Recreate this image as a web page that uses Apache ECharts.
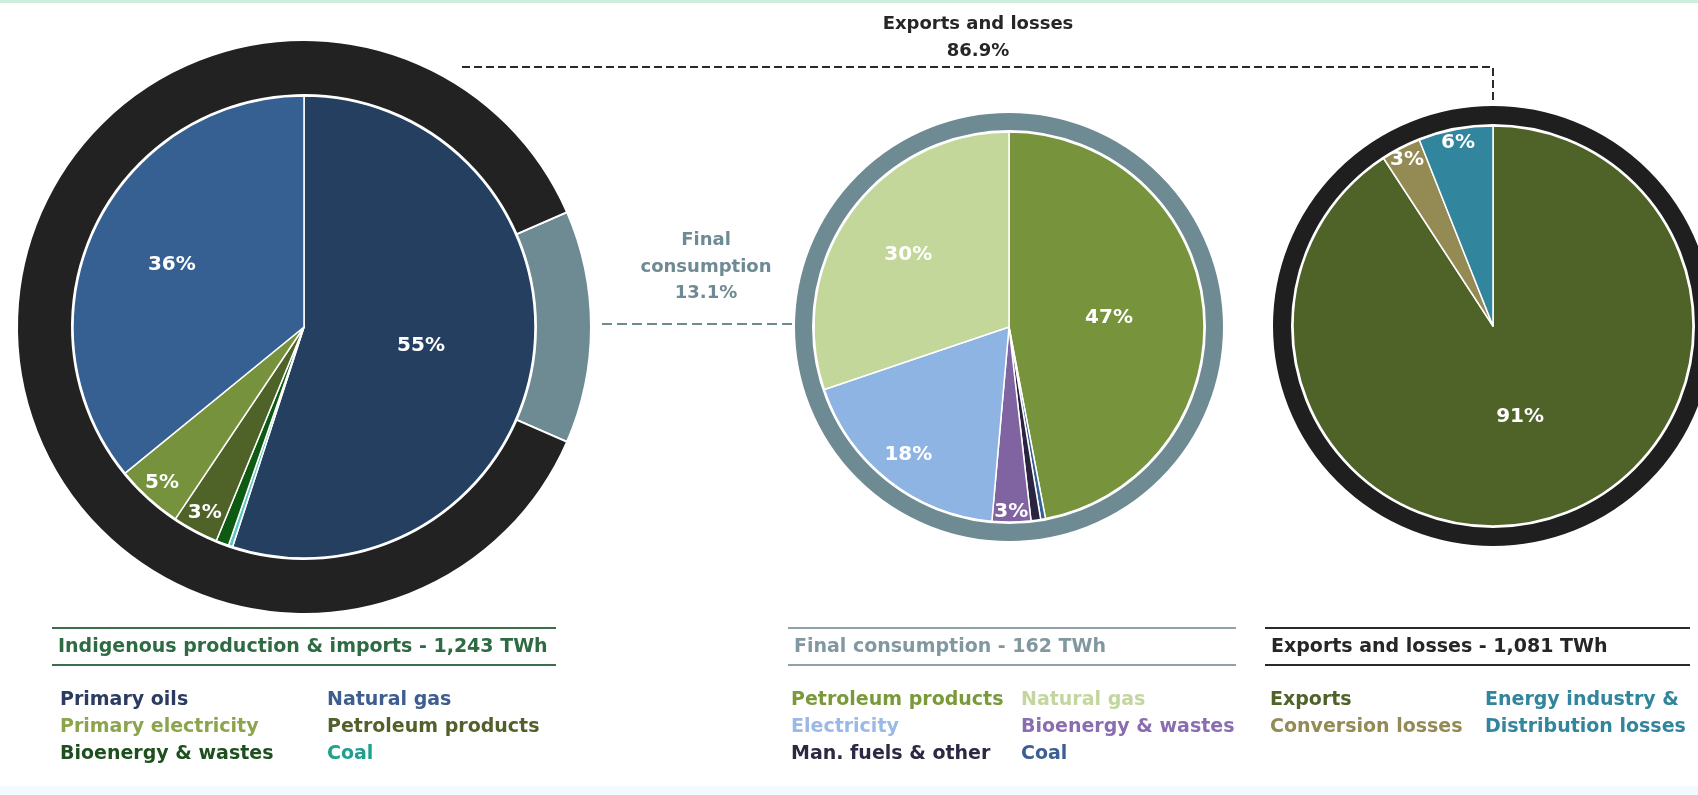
<!DOCTYPE html>
<html>
<head>
<meta charset="utf-8">
<script src="https://cdn.jsdelivr.net/npm/echarts@6/dist/echarts.min.js"></script>
<style>
html,body{margin:0;padding:0;background:#ffffff;}
#chart{width:1698px;height:795px;}
</style>
</head>
<body>
<div id="chart"></div>
<script>
// ---------------- DATA ----------------
// Left pie: Indigenous production & imports (clockwise from 12 o'clock)
const supplyCategories = ['Primary oils', 'Coal', 'Bioenergy & wastes', 'Petroleum products', 'Primary electricity', 'Natural gas'];
const supplyValues     = [55.0, 0.3, 0.9, 3.2, 4.7, 35.9];
const supplyTotalLabel = 'Indigenous production & imports - 1,243 TWh';

// Outer ring of left pie: split of supply
const splitCategories = ['Final consumption', 'Exports and losses'];
const splitValues     = [13.1, 86.9];

// Middle pie: Final consumption
const finalCategories = ['Petroleum products', 'Coal', 'Man. fuels & other', 'Bioenergy & wastes', 'Electricity', 'Natural gas'];
const finalValues     = [47.0, 0.4, 0.8, 3.2, 18.4, 30.2];
const finalTotalLabel = 'Final consumption - 162 TWh';

// Right pie: Exports and losses
const exportCategories = ['Exports', 'Conversion losses', 'Energy industry & Distribution losses'];
const exportValues     = [90.8, 3.2, 6.0];
const exportTotalLabel = 'Exports and losses - 1,081 TWh';

// Legend layouts (rows of [col1, col2])
const supplyLegendRows = [['Primary oils', 'Natural gas'], ['Primary electricity', 'Petroleum products'], ['Bioenergy & wastes', 'Coal']];
const finalLegendRows  = [['Petroleum products', 'Natural gas'], ['Electricity', 'Bioenergy & wastes'], ['Man. fuels & other', 'Coal']];
const exportLegendRows = [['Exports', 'Energy industry &'], ['Conversion losses', 'Distribution losses']];

// ---------------- STYLES ----------------
const supplyColors = {
  'Primary oils': '#243F60', 'Coal': '#5CC6C4', 'Bioenergy & wastes': '#0E5A12',
  'Petroleum products': '#4F6228', 'Primary electricity': '#76923C', 'Natural gas': '#366092'
};
const supplyText = {
  'Primary oils': '#2B3B62', 'Natural gas': '#3E5D91', 'Primary electricity': '#8CA44C',
  'Petroleum products': '#52602B', 'Bioenergy & wastes': '#1E4F1E', 'Coal': '#1FA08D'
};
const splitColors = {'Final consumption': '#6E8A93', 'Exports and losses': '#222222'};
const finalColors = {
  'Petroleum products': '#77933C', 'Coal': '#366092', 'Man. fuels & other': '#2A2440',
  'Bioenergy & wastes': '#8064A2', 'Electricity': '#8DB4E2', 'Natural gas': '#C4D79B'
};
const finalText = {
  'Petroleum products': '#7A9A3A', 'Natural gas': '#C2D69E', 'Electricity': '#9AB9E6',
  'Bioenergy & wastes': '#8A6CB0', 'Man. fuels & other': '#2E2843', 'Coal': '#3C5E92'
};
const exportColors = {'Exports': '#4F6228', 'Conversion losses': '#948A54', 'Energy industry & Distribution losses': '#31859C'};
const exportText = {'Exports': '#4F6228', 'Conversion losses': '#948A54', 'Energy industry &': '#31859C', 'Distribution losses': '#31859C'};

const FONT = '"DejaVu Sans", Verdana, sans-serif';

const L = {c: [304, 327], r: 231, R: 287};
const M = {c: [1009, 327], r: 195, R: 215};
const Rt = {c: [1493, 326], r: 200, R: 221};

function items(cats, vals, colors) {
  return cats.map((n, i) => ({name: n, value: vals[i], itemStyle: {color: colors[n]}}));
}
function mainPie(geo, cats, vals, colors) {
  return {
    type: 'pie', center: geo.c, radius: [0, geo.r], startAngle: 90, clockwise: true,
    avoidLabelOverlap: false, silent: true, animation: false,
    itemStyle: {borderColor: '#ffffff', borderWidth: 1.5},
    label: {show: false}, labelLine: {show: false},
    data: items(cats, vals, colors)
  };
}
function ringPie(geo, cats, vals, colors, startAngle) {
  return {
    type: 'pie', center: geo.c, radius: [geo.r + 1, geo.R], startAngle: startAngle, clockwise: true,
    silent: true, animation: false,
    itemStyle: {borderColor: '#ffffff', borderWidth: 2},
    label: {show: false}, labelLine: {show: false},
    data: items(cats, vals, colors)
  };
}
// transparent overlay placing labels at a given fraction of the radius
function labelPie(geo, cats, vals, frac, test) {
  const rr = geo.r * frac;
  return {
    type: 'pie', center: geo.c, radius: [rr - 1, rr + 1], startAngle: 90, clockwise: true,
    avoidLabelOverlap: false, silent: true, animation: false,
    itemStyle: {color: 'rgba(0,0,0,0)', borderWidth: 0},
    label: {
      show: true, position: 'inside', color: '#ffffff', fontFamily: FONT, fontWeight: 'bold', fontSize: 20,
      formatter: p => test(p.value, p.dataIndex) ? Math.round(p.value) + '%' : ''
    },
    labelLine: {show: false},
    data: cats.map((n, i) => ({name: n, value: vals[i]}))
  };
}

const series = [
  ringPie(L, splitCategories, splitValues, splitColors, splitValues[0] * 1.8),
  mainPie(L, supplyCategories, supplyValues, supplyColors),
  labelPie(L, supplyCategories, supplyValues, 0.5, v => v >= 50),
  labelPie(L, supplyCategories, supplyValues, 0.62, v => v >= 10 && v < 50),
  labelPie(L, supplyCategories, supplyValues, 0.9, v => v >= 2 && v < 10),

  ringPie(M, ['Final consumption'], [100], {'Final consumption': '#6E8A93'}, 90),
  mainPie(M, finalCategories, finalValues, finalColors),
  labelPie(M, finalCategories, finalValues, 0.5, v => v >= 40),
  labelPie(M, finalCategories, finalValues, 0.62, v => v >= 25 && v < 40),
  labelPie(M, finalCategories, finalValues, 0.82, v => v >= 10 && v < 25),
  labelPie(M, finalCategories, finalValues, 0.93, v => v >= 2 && v < 10),

  ringPie(Rt, ['Exports and losses'], [100], {'Exports and losses': '#1F1F1F'}, 90),
  mainPie(Rt, exportCategories, exportValues, exportColors),
  labelPie(Rt, exportCategories, exportValues, 0.46, v => v >= 40),
  labelPie(Rt, exportCategories, exportValues, 0.92, v => v >= 2 && v < 40)
];

// ---------------- GRAPHICS (annotations & legends) ----------------
const g = [];
g.push({type: 'rect', shape: {x: 0, y: 0, width: 1698, height: 3}, style: {fill: '#CDEDDF'}, silent: true});
g.push({type: 'rect', shape: {x: 0, y: 786, width: 1698, height: 9}, style: {fill: '#F1FAFC'}, silent: true});

function txt(t, x, y, color, size, align, weight) {
  g.push({type: 'text', x: x, y: y, silent: true,
    style: {text: t, fill: color, font: (weight || 'bold') + ' ' + size + 'px ' + FONT,
      textAlign: align || 'left', textVerticalAlign: 'middle'}});
}
function line(pts, color, width, dash) {
  g.push({type: 'polyline', silent: true, shape: {points: pts},
    style: {stroke: color, lineWidth: width, lineDash: dash || null, fill: null}});
}

// Exports and losses annotation
txt(splitCategories[1], 978, 24, '#262626', 18, 'center');
txt(splitValues[1].toFixed(1) + '%', 978, 51, '#262626', 18, 'center');
line([[462, 67], [Rt.c[0], 67], [Rt.c[0], Rt.c[1] - Rt.R]], '#2A2A2A', 2, [8, 4]);

// Final consumption annotation
txt('Final', 706, 240, '#6E8A93', 18, 'center');
txt('consumption', 706, 267, '#6E8A93', 18, 'center');
txt(splitValues[0].toFixed(1) + '%', 706, 293, '#6E8A93', 18, 'center');
line([[602, 324], [M.c[0] - M.R, 324]], '#6E8A93', 2, [10, 5]);

// Legend boxes
function legendBox(x0, x1, title, titleColor, lineColor, rows, colX, colors) {
  line([[x0, 628], [x1, 628]], lineColor, 2);
  line([[x0, 665], [x1, 665]], lineColor, 2);
  txt(title, x0 + 6, 647, titleColor, 19, 'left');
  rows.forEach((row, ri) => {
    row.forEach((name, ci) => {
      txt(name, colX[ci], 700 + ri * 27, colors[name], 19, 'left');
    });
  });
}
legendBox(52, 556, supplyTotalLabel, '#2E6B43', '#3A6E4C', supplyLegendRows, [60, 327], supplyText);
legendBox(788, 1236, finalTotalLabel, '#8298A0', '#8FA2A8', finalLegendRows, [791, 1021], finalText);
legendBox(1265, 1690, exportTotalLabel, '#262626', '#2A2A2A', exportLegendRows, [1270, 1485], exportText);

const chart = echarts.init(document.getElementById('chart'), null, {renderer: 'canvas'});
chart.setOption({
  backgroundColor: '#ffffff',
  animation: false,
  series: series,
  graphic: g
});
</script>
</body>
</html>
